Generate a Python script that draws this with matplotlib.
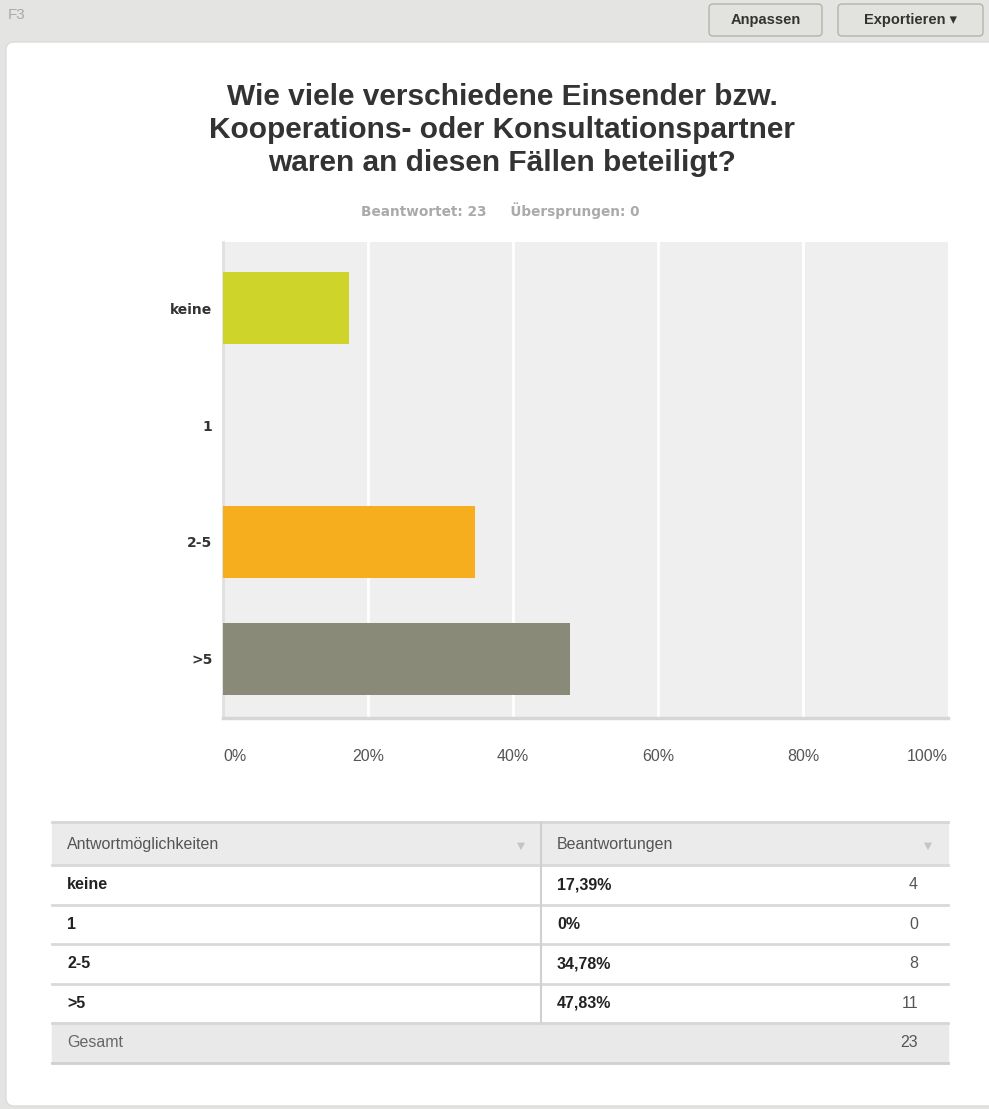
import numpy as np
import matplotlib
matplotlib.use('Agg')
import matplotlib.pyplot as plt
from matplotlib.patches import Rectangle, FancyBboxPatch

plt.rcParams['font.family'] = ['Liberation Sans', 'DejaVu Sans']

# Daten
categories = ['keine', '1', '2-5', '>5']
percents = [17.39, 0.0, 34.78, 47.83]
counts = [4, 0, 8, 11]
bar_colors = ['#cfd42a', '#6f8fc0', '#f6ae1f', '#8a8a79']
answered = 23
skipped = 0
x_ticks = [0, 20, 40, 60, 80, 100]
title = 'Wie viele verschiedene Einsender bzw.\nKooperations- oder Konsultationspartner\nwaren an diesen Fällen beteiligt?'

W, H = 989, 1109
fig = plt.figure(figsize=(W / 100, H / 100), dpi=100)
wide = ['DejaVu Sans']

# Hintergrund-Achse in Pixelkoordinaten
bg = fig.add_axes([0, 0, 1, 1])
bg.set_xlim(0, W)
bg.set_ylim(H, 0)
bg.axis('off')
bg.add_patch(Rectangle((0, 0), W, H, color='#e4e4e2', zorder=0))
bg.add_patch(FancyBboxPatch((6, 42), W + 20, 1064, boxstyle='round,pad=0,rounding_size=8',
                            fc='white', ec='#dcdcdc', lw=1, zorder=1))

# Kopfleiste
bg.text(8, 15, 'F3', fontsize=11, color='#aaaaaa', va='center', ha='left', zorder=2)
for (x0, x1, label) in [(709, 822, 'Anpassen'), (838, 983, 'Exportieren ▾')]:
    bg.add_patch(FancyBboxPatch((x0, 4), x1 - x0, 32, boxstyle='round,pad=0,rounding_size=4',
                                fc='#e2e2de', ec='#b4b4ae', lw=1, zorder=2))
    bg.text((x0 + x1) / 2, 20, label, fontsize=10.5, fontweight='bold', color='#333333',
            ha='center', va='center', zorder=3)

# Titel
bg.text(502, 130, title, fontsize=21.5, fontweight='bold', color='#333333', ha='center',
        va='center', linespacing=1.22, zorder=3)
bg.text(500, 211, f'Beantwortet: {answered}     Übersprungen: {skipped}', fontsize=9.8,
        family=wide, fontweight='bold', color='#aaaaaa', ha='center', va='center', zorder=3)

# Balkendiagramm
left, right, top, bottom = 223, 948, 242, 718
ax = fig.add_axes([left / W, 1 - bottom / H, (right - left) / W, (bottom - top) / H])
ax.set_facecolor('#efefef')
y = np.arange(len(categories))
ax.barh(y, percents, height=0.615, color=bar_colors, zorder=3)
ax.set_xlim(0, 100)
ax.set_ylim(3.505, -0.565)
for t in x_ticks[1:-1]:
    ax.axvline(t, color='white', lw=2, zorder=1)
for s in ['top', 'right']:
    ax.spines[s].set_visible(False)
ax.spines['left'].set_color('#e0e0e0')
ax.spines['left'].set_linewidth(2)
ax.spines['bottom'].set_color('#d6d6d6')
ax.spines['bottom'].set_linewidth(2.5)
ax.set_yticks(y)
ax.set_yticklabels(categories, fontsize=10, family=wide, fontweight='bold', color='#333333')
ax.set_xticks(x_ticks)
ax.set_xticklabels([f'{t}%' for t in x_ticks], fontsize=11.5, color='#555555')
ax.tick_params(axis='y', length=0, pad=7.5)
ax.tick_params(axis='x', length=0, pad=22)
xl = ax.get_xticklabels()
xl[0].set_ha('left')
xl[-1].set_ha('right')

# Tabelle
tx0, tx1, tcol = 52, 948, 541
row_top = 823
head_h = 42
row_h = 39.5
bg.add_patch(Rectangle((tx0, row_top), tx1 - tx0, head_h, color='#ebebeb', zorder=2))
bg.plot([tx0, tx1], [row_top - 1, row_top - 1], color='#d6d6d6', lw=2, zorder=3)
bg.text(67, row_top + head_h / 2, 'Antwortmöglichkeiten', fontsize=11.5, color='#555555',
        va='center', ha='left', zorder=4)
bg.text(557, row_top + head_h / 2, 'Beantwortungen', fontsize=11.5, color='#555555',
        va='center', ha='left', zorder=4)
for ax_x in [521, 928]:
    bg.text(ax_x, row_top + head_h / 2 + 2, '▼', fontsize=7.5, family=wide, color='#c4c4c4',
            va='center', ha='center', zorder=4)

y0 = row_top + head_h
for i, (cat, pct, cnt) in enumerate(zip(categories, percents, counts)):
    ry = y0 + i * row_h
    bg.plot([tx0, tx1], [ry, ry], color='#d9d9d9', lw=2, zorder=3)
    pct_txt = '0%' if pct == 0 else f'{pct:.2f}'.replace('.', ',') + '%'
    bg.text(67, ry + row_h / 2, cat, fontsize=11.5, fontweight='bold', color='#222222',
            va='center', ha='left', zorder=4)
    bg.text(557, ry + row_h / 2, pct_txt, fontsize=11.5, fontweight='bold', color='#222222',
            va='center', ha='left', zorder=4)
    bg.text(918, ry + row_h / 2, str(cnt), fontsize=11.5, color='#555555',
            va='center', ha='right', zorder=4)

gy = y0 + len(categories) * row_h
bg.plot([tcol, tcol], [row_top, gy], color='#d0d0d0', lw=1.5, zorder=3)
bg.add_patch(Rectangle((tx0, gy), tx1 - tx0, row_h, color='#e9e9e9', zorder=2))
bg.plot([tx0, tx1], [gy, gy], color='#d6d6d6', lw=2, zorder=3)
bg.plot([tx0, tx1], [gy + row_h, gy + row_h], color='#d0d0d0', lw=2, zorder=3)
bg.text(67, gy + row_h / 2, 'Gesamt', fontsize=11.5, color='#666666', va='center',
        ha='left', zorder=4)
bg.text(918, gy + row_h / 2, str(sum(counts)), fontsize=11.5, color='#555555',
        va='center', ha='right', zorder=4)

fig.savefig('out.png', dpi=100)
